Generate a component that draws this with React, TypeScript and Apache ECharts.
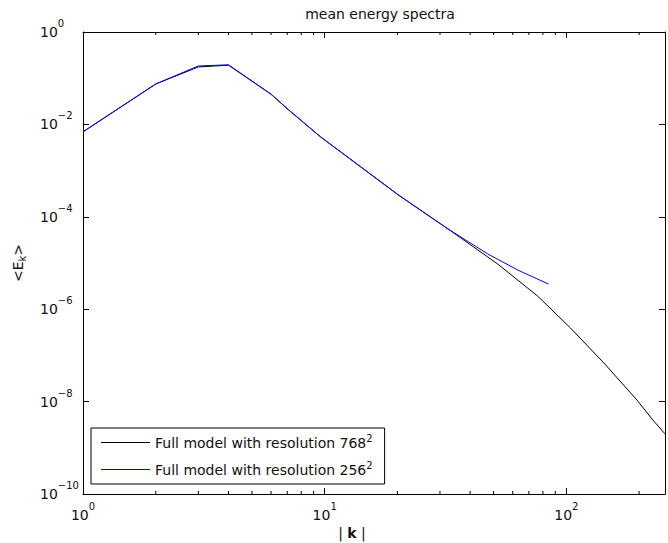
import React, { useEffect, useRef } from 'react';
import * as echarts from 'echarts';

const chartTitle = 'mean energy spectra';
const seriesNames = ['Full model with resolution 768', 'Full model with resolution 256'];
const seriesColors = ['#000000', '#0000ff'];
const legendExponent = '2';

// Full model 768^2 (black)
const k768 = [1, 2, 3, 4, 6, 7.1, 9.6, 20.2, 32.4, 47.3, 52, 76, 104, 143, 196, 228, 256];
const e768 = [6.9e-3, 7.5e-2, 1.75e-1, 1.91e-1, 4.5e-2, 2.05e-2, 5.4e-3, 2.96e-4, 5.45e-5, 1.35e-5, 9.5e-6, 1.93e-6, 3.92e-7, 6.85e-8, 1.08e-8, 4.0e-9, 2.0e-9];

// Full model 256^2 (blue)
const k256 = [1, 2, 3, 4, 6, 7.1, 9.6, 20.2, 32.4, 47.3, 62.9, 84.3];
const e256 = [6.9e-3, 7.5e-2, 1.84e-1, 1.95e-1, 4.5e-2, 2.05e-2, 5.4e-3, 2.96e-4, 5.45e-5, 1.57e-5, 7.05e-6, 3.51e-6];

const minorTickValues = [2, 3, 4, 5, 6, 7, 8, 9, 20, 30, 40, 50, 60, 70, 80, 90, 200];
const xMin = 1;
const xMax = 256;
const yMin = 1e-10;
const yMax = 1;

const FONT = 'DejaVu Sans';

function isDecade(v: number) {
  const l = Math.log10(v);
  return Math.abs(l - Math.round(l)) < 1e-6;
}
function powLabel(v: number) {
  if (!isDecade(v)) return '';
  const e = Math.round(Math.log10(v));
  return `{b|10}{e|${e < 0 ? '\u2212' + -e : e}}`;
}
function lineIcon(color: string) {
  const svg =
    '<svg xmlns="http://www.w3.org/2000/svg" width="49" height="14" viewBox="0 0 49 14">' +
    `<rect x="0" y="6.5" width="49" height="1" fill="${color}"/></svg>`;
  return 'image://data:image/svg+xml;charset=utf-8,' + encodeURIComponent(svg);
}

const richPow = {
  b: { fontFamily: FONT, fontSize: 14, lineHeight: 16, color: '#111' },
  e: { fontFamily: FONT, fontSize: 10, lineHeight: 12, padding: [0, 0, 17, 0], color: '#111' },
};

export default function App() {
  const ref = useRef<HTMLDivElement>(null);
  useEffect(() => {
    if (!ref.current) return;
    const chart = echarts.init(ref.current, undefined, { renderer: 'svg' });
    const axisLine = { show: true, onZero: false, lineStyle: { color: '#000', width: 1 } };
    const tick = { show: true, inside: true, length: 6, lineStyle: { color: '#000', width: 1 } };
    const option: any = {
      animation: false,
      backgroundColor: '#fff',
      color: seriesColors,
      title: {
        text: chartTitle,
        left: 375,
        top: 2,
        textAlign: 'center',
        textStyle: { fontFamily: FONT, fontSize: 14, fontWeight: 'normal', color: '#111' },
      },
      grid: { left: 83, right: 0, top: 32, bottom: 49 },
      xAxis: [
        {
          type: 'log', logBase: 10, min: xMin, max: xMax, interval: 1, position: 'bottom',
          axisLine, axisTick: tick,
          axisLabel: { formatter: powLabel, margin: 21, verticalAlign: 'middle', rich: richPow, showMinLabel: true, showMaxLabel: true },
          splitLine: { show: false },
        },
        {
          type: 'log', logBase: 10, min: xMin, max: xMax, interval: 1, position: 'top',
          axisLine, axisTick: tick, axisLabel: { show: false }, splitLine: { show: false },
        },
      ],
      yAxis: [
        {
          type: 'log', logBase: 10, min: yMin, max: yMax, interval: 2, position: 'left',
          axisLine, axisTick: tick,
          axisLabel: { formatter: powLabel, margin: 43, align: 'left', verticalAlign: 'middle', rich: richPow },
          splitLine: { show: false },
        },
        {
          type: 'log', logBase: 10, min: yMin, max: yMax, interval: 2, position: 'right',
          axisLine, axisTick: tick, axisLabel: { show: false }, splitLine: { show: false },
        },
      ],
      legend: {
        data: seriesNames.map((n, i) => ({ name: n, icon: lineIcon(seriesColors[i]) })),
        orient: 'vertical',
        left: 91,
        top: 428,
        padding: [5, 12, 5, 10],
        itemGap: 8,
        itemWidth: 49,
        itemHeight: 14,
        backgroundColor: '#fff',
        borderColor: '#000',
        borderWidth: 1,
        borderRadius: 0,
        formatter: (name: string) => `{t|${name}}{s|${legendExponent}}`,
        textStyle: {
          rich: {
            t: { fontFamily: FONT, fontSize: 14, lineHeight: 20, color: '#111' },
            s: { fontFamily: FONT, fontSize: 10, lineHeight: 11, padding: [0, 0, 9, 0], color: '#111' },
          },
        },
      },
      series: [
        {
          type: 'custom',
          name: 'minor ticks',
          xAxisIndex: 0,
          yAxisIndex: 0,
          silent: true,
          clip: false,
          z: 5,
          data: minorTickValues.map((v) => [v, yMax]),
          renderItem: (params: any, api: any) => {
            const k = api.value(0);
            const b = api.coord([k, yMin]);
            const t = api.coord([k, yMax]);
            const st = { stroke: '#000', lineWidth: 1 };
            return {
              type: 'group',
              children: [
                { type: 'line', shape: { x1: b[0], y1: b[1], x2: b[0], y2: b[1] - 3 }, style: st },
                { type: 'line', shape: { x1: t[0], y1: t[1], x2: t[0], y2: t[1] + 3 }, style: st },
              ],
            };
          },
        },
        {
          type: 'line',
          name: seriesNames[0],
          color: seriesColors[0],
          data: k768.map((k, i) => [k, e768[i]]),
          symbol: 'none',
          showSymbol: false,
          lineStyle: { color: seriesColors[0], width: 1 },
          itemStyle: { color: seriesColors[0] },
          z: 3,
        },
        {
          type: 'line',
          name: seriesNames[1],
          color: seriesColors[1],
          data: k256.map((k, i) => [k, e256[i]]),
          symbol: 'none',
          showSymbol: false,
          lineStyle: { color: seriesColors[1], width: 1 },
          itemStyle: { color: seriesColors[1] },
          z: 4,
        },
      ],
      graphic: [
        {
          type: 'text',
          x: 352,
          y: 533,
          style: {
            text: '{a|| }{k|k}{a| |}',
            align: 'center',
            verticalAlign: 'middle',
            rich: {
              a: { fontFamily: FONT, fontSize: 14, fill: '#111' },
              k: { fontFamily: FONT, fontSize: 14, fontWeight: 'bold', fill: '#111' },
            },
          },
        },
        {
          type: 'text',
          x: 18,
          y: 263,
          rotation: Math.PI / 2,
          style: {
            text: '{a|<E}{s|k}{a|>}',
            align: 'center',
            verticalAlign: 'middle',
            rich: {
              a: { fontFamily: FONT, fontSize: 14, lineHeight: 16, fill: '#111' },
              s: { fontFamily: FONT, fontSize: 10, lineHeight: 12, padding: [8, 0, 0, 0], fill: '#111' },
            },
          },
        },
      ],
    };
    chart.setOption(option);
    return () => chart.dispose();
  }, []);
  return (
    <div
      ref={ref}
      style={{ position: 'fixed', left: 0, top: 0, width: 668, height: 543, background: '#fff' }}
    />
  );
}
